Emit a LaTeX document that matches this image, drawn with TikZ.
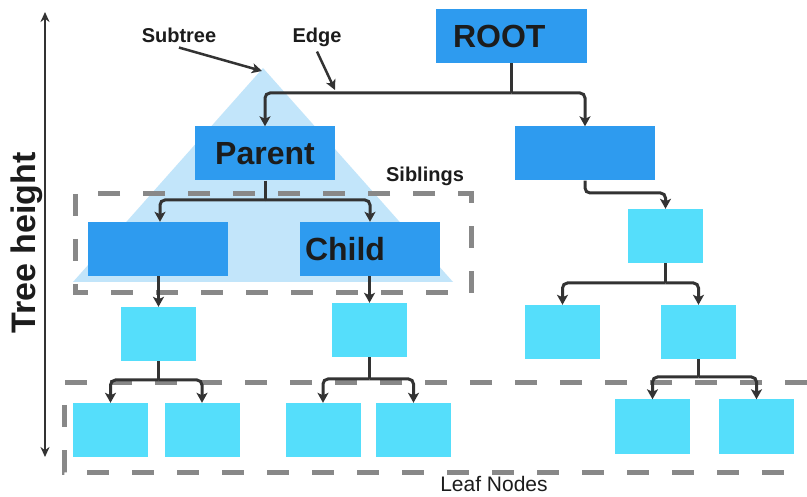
\documentclass[tikz,border=0pt]{standalone}
\usepackage{fontspec}
\setmainfont{Liberation Sans}
\usetikzlibrary{arrows.meta}
\definecolor{dblue}{HTML}{2E9BEF}
\definecolor{lcyan}{HTML}{55DEFB}
\definecolor{trifill}{HTML}{C2E5FA}
\definecolor{dgray}{HTML}{888888}
\definecolor{ink}{HTML}{333333}
\definecolor{txt}{HTML}{1C1C1C}
\begin{document}
\begin{tikzpicture}[x=1pt,y=-1pt,
  box/.style={draw=none,inner sep=0pt,minimum width=#1,minimum height=54pt},
  dbox/.style={box=140pt,fill=dblue},
  cbox/.style={box=75pt,fill=lcyan},
  big/.style={font=\fontsize{32}{32}\selectfont\bfseries,text=txt},
  conn/.style={draw=ink,line width=3pt,rounded corners=5pt,-{Stealth[length=10pt,width=11pt,inset=2.5pt]}},
  stem/.style={draw=ink,line width=3pt},
  note/.style={draw=ink,line width=2.5pt,-{Stealth[length=10pt,width=10pt,inset=2.5pt]}},
  dashbox/.style={draw=dgray,line width=5pt,dash pattern=on 22pt off 23pt},
  lbl/.style={font=\fontsize{20}{20}\selectfont\bfseries,text=txt,inner sep=0pt},
]
\fill[white] (0,0) rectangle (807,497);
\useasboundingbox (0,0) rectangle (807,497);

% subtree triangle
\fill[trifill] (263,68) -- (453,282) -- (73,282) -- cycle;

% dashed groups
\draw[dashbox] (75,194) rectangle (471,293);
\draw[dashbox] (807,383) -- (64,383) -- (64,472) -- (807,472);

% nodes
\node[dbox,minimum width=151pt,big] (root) at (511.5,36) {\makebox[151pt][l]{\hspace{17pt}ROOT}};
\node[dbox,big] (parent) at (265,153.5) {Parent};
\node[dbox] (r1) at (585,153.5) {};
\node[dbox] (l2a) at (158,249) {};
\node[dbox,big] (child) at (370,249) {\makebox[140pt][l]{\hspace{5pt}Child}};
\node[cbox] (r2) at (665.5,236) {};
\node[cbox] (l3a) at (158.5,334) {};
\node[cbox] (l3b) at (369.5,330) {};
\node[cbox] (l3c) at (562.5,332) {};
\node[cbox] (l3d) at (698.5,332) {};
\node[cbox] (leaf1) at (110.5,430) {};
\node[cbox] (leaf2) at (202,430) {};
\node[cbox] (leaf3) at (323,430) {};
\node[cbox] (leaf4) at (413.5,430) {};
\node[cbox] (leaf5) at (652.5,426.5) {};
\node[cbox] (leaf6) at (756.5,426.5) {};

% connectors
\draw[stem] (root.south) -- (root.south |- 0,93);
\draw[conn] (root.south |- 0,93) -| (parent.north);
\draw[conn] (root.south |- 0,93) -| (r1.north);
\draw[stem] (parent.south) -- (parent.south |- 0,200);
\draw[conn] (parent.south |- 0,200) -| ([xshift=2pt]l2a.north);
\draw[conn] (parent.south |- 0,200) -| (child.north);
\draw[conn] (r1.south) -- (r1.south |- 0,193) -| (r2.north);
\draw[stem] (r2.south) -- (r2.south |- 0,283);
\draw[conn] (r2.south |- 0,283) -| (l3c.north);
\draw[conn] (r2.south |- 0,283) -| (l3d.north);
\draw[conn] (l3a.north |- l2a.south) -- (l3a.north);
\draw[conn] (l3b.north |- child.south) -- (l3b.north);
\draw[stem] (l3a.south) -- (l3a.south |- 0,380);
\draw[conn] (l3a.south |- 0,380) -| (leaf1.north);
\draw[conn] (l3a.south |- 0,380) -| (leaf2.north);
\draw[stem] (l3b.south) -- (l3b.south |- 0,379);
\draw[conn] (l3b.south |- 0,379) -| (leaf3.north);
\draw[conn] (l3b.south |- 0,379) -| (leaf4.north);
\draw[stem] (l3d.south) -- (l3d.south |- 0,377);
\draw[conn] (l3d.south |- 0,377) -| (leaf5.north);
\draw[conn] (l3d.south |- 0,377) -| (leaf6.north);

% annotations
\node[lbl] (subtree) at (179,35) {Subtree};
\node[lbl] (edge) at (317,37) {Edge};
\node[lbl] (siblings) at (425,176) {Siblings};
\node[font=\fontsize{21}{21}\selectfont,text=txt,inner sep=0pt] (leafnodes) at (494,484) {Leaf Nodes};
\coordinate (apex) at (262,71);
\coordinate (edgept) at (335,90);
\draw[note] ([yshift=-5pt]subtree.south) -- (apex);
\draw[note] ([yshift=-5pt]edge.south) -- (edgept);

% tree height
\coordinate (htop) at (45,12);
\coordinate (hbot) at (45,457);
\draw[draw=ink,line width=2pt,{Stealth[length=10pt,width=9pt]}-{Stealth[length=10pt,width=9pt]}] (htop) -- (hbot);
\node[rotate=90,font=\fontsize{34}{34}\selectfont\bfseries,text=txt,inner sep=0pt] (th) at (27,243) {Tree height};
\end{tikzpicture}
\end{document}
